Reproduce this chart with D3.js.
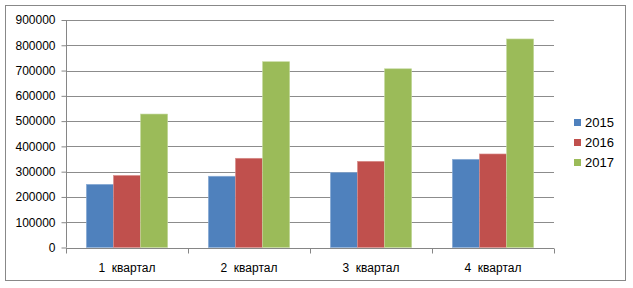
<!DOCTYPE html>
<html><head><meta charset="utf-8">
<script src="https://cdn.jsdelivr.net/npm/d3@7"></script>
<style>
html,body{margin:0;padding:0;background:#fff;}
text{font-family:"Liberation Sans",Arial,sans-serif;fill:#000;}
</style></head>
<body>
<svg id="chart" width="633" height="288"></svg>
<script>
const categories = ["1  квартал", "2  квартал", "3  квартал", "4  квартал"];
const seriesNames = ["2015", "2016", "2017"];
const values2015 = [250000, 282000, 297000, 349000];
const values2016 = [285000, 353000, 341000, 370000];
const values2017 = [528000, 735000, 707000, 825000];
const yTicks = [0, 100000, 200000, 300000, 400000, 500000, 600000, 700000, 800000, 900000];
const colors = ["#4F81BD", "#C0504D", "#9BBB59"];
const strokes = ["#8fb0d8", "#d9908e", "#c4d99e"];

(function(){
const series = [values2015, values2016, values2017];
const svg = d3.select("#chart");

svg.append("rect").attr("x", 5.5).attr("y", 5.5).attr("width", 620).attr("height", 275)
  .attr("fill", "#fff").attr("stroke", "#888").attr("stroke-width", 1);

const pL = 66, pR = 554, pT = 20, pB = 247.5;
const x = d3.scaleBand().domain(categories).range([pL, pR]);
const y = d3.scaleLinear().domain([0, 900000]).range([pB, pT]);
const barW = x.bandwidth() / 4.5;

// gridlines
svg.append("g").selectAll("line").data(yTicks.filter(d => d > 0)).join("line")
  .attr("x1", pL).attr("x2", pR)
  .attr("y1", d => Math.round(y(d)) + 0.5).attr("y2", d => Math.round(y(d)) + 0.5)
  .attr("stroke", "#8c8c8c").attr("stroke-width", 1);

// bars
categories.forEach((c, i) => {
  series.forEach((s, j) => {
    const bx = x(c) + barW * 0.75 + j * barW;
    svg.append("rect")
      .attr("x", bx).attr("y", y(s[i]))
      .attr("width", barW).attr("height", pB - y(s[i]))
      .attr("fill", colors[j]).attr("stroke", strokes[j]).attr("stroke-width", 0.6);
  });
});

// y axis
const yAxis = d3.axisLeft(y).tickValues(yTicks).tickFormat(d3.format("d")).tickSize(5).tickPadding(6);
const gy = svg.append("g").attr("transform", `translate(${pL + 0.5},0)`).call(yAxis);
gy.selectAll("line,path").attr("stroke", "#868686");
gy.selectAll("text").style("font-size", "12px").attr("fill", "#000");
gy.select(".domain").attr("d", `M0,${pT}V${pB}`);

// x axis
const gx = svg.append("g").attr("transform", `translate(0,${Math.round(pB) + 0.5})`);
gx.append("line").attr("x1", pL).attr("x2", pR).attr("stroke", "#868686");
const bounds = [pL].concat(categories.map(c => x(c) + x.bandwidth()));
gx.selectAll(".tk").data(bounds).join("line").attr("class", "tk")
  .attr("x1", d => Math.round(d) + 0.5).attr("x2", d => Math.round(d) + 0.5)
  .attr("y1", 0).attr("y2", 5).attr("stroke", "#868686");
gx.selectAll(".lbl").data(categories).join("text").attr("class", "lbl")
  .attr("x", d => x(d) + x.bandwidth() / 2).attr("y", 23)
  .attr("text-anchor", "middle").style("font-size", "12px").style("white-space", "pre")
  .text(d => d);

// legend
const lg = svg.append("g");
seriesNames.forEach((n, j) => {
  const ly = 122 + j * 20;
  lg.append("rect").attr("x", 574).attr("y", ly - 3).attr("width", 7).attr("height", 7).attr("fill", colors[j]);
  lg.append("text").attr("x", 585).attr("y", ly + 5).style("font-size", "13px").text(n);
});
})();
</script>
</body></html>
